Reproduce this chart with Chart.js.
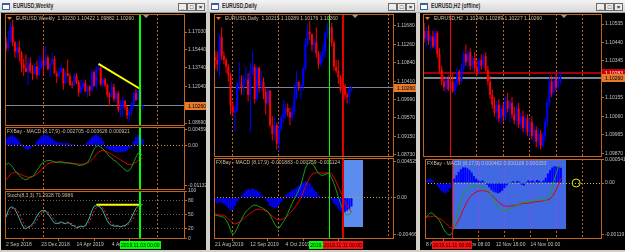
<!DOCTYPE html>
<html><head><meta charset="utf-8">
<script src="https://cdn.jsdelivr.net/npm/chart.js@4.4.0/dist/chart.umd.min.js"></script>
<style>
html,body{margin:0;padding:0;background:#d4d0c8;width:625px;height:252px;overflow:hidden;font-family:"Liberation Sans",Arial,sans-serif;}
.tb{position:absolute;top:0;height:13px;background:linear-gradient(#f4f4f4,#d8d8d8);border-bottom:1px solid #9a9a9a;box-sizing:border-box}
.tt{position:absolute;left:13px;top:2px;font-size:6.5px;color:#2a2a2a;white-space:nowrap;transform:scaleX(0.78);transform-origin:0 0;font-weight:bold}
.ic{position:absolute;left:2px;top:3px;width:8px;height:7px;background:#fff;border:1px solid #3a5ea0;border-top-width:2px;box-sizing:border-box}
.bt{position:absolute;top:3px;width:9px;height:8px;background:#ececec;border:1px solid #6a6a6a;box-sizing:border-box;font-size:6px;line-height:6px;text-align:center;color:#000;font-weight:bold}
.cl{position:absolute;background:#000}
canvas{position:absolute}
</style></head><body>

<div class="tb" style="left:0;width:207px"><div class="ic"></div><div class="tt">EURUSD,Weekly</div>
<div class="bt" style="left:178px">_</div><div class="bt" style="left:187px">□</div><div class="bt" style="left:196px">×</div></div>
<div class="cl" style="left:1px;top:13px;width:205px;height:237px"></div>

<div class="tb" style="left:209px;width:208px"><div class="ic"></div><div class="tt">EURUSD,Daily</div>
<div class="bt" style="left:179px">_</div><div class="bt" style="left:188px">□</div><div class="bt" style="left:197px">×</div></div>
<div class="cl" style="left:210px;top:13px;width:206px;height:237px"></div>

<div class="tb" style="left:418px;width:207px"><div class="ic"></div><div class="tt">EURUSD,H2 (offline)</div>
<div class="bt" style="left:178px">_</div><div class="bt" style="left:187px">□</div><div class="bt" style="left:196px">×</div></div>
<div class="cl" style="left:420px;top:13px;width:205px;height:237px"></div>

<script>
// ======================= DATA =======================
// ---- Window 1 : EURUSD Weekly (63 bars, 2 Sep 2018 .. 10 Nov 2019)
const W1_OPEN = [1.1600,1.1553,1.1624,1.1754,1.1607,1.1524,1.1560,1.1513,1.1404,1.1373,
1.1336,1.1416,1.1340,1.1318,1.1388,1.1306,1.1372,1.1442,1.1395,1.1469,
1.1364,1.1408,1.1456,1.1323,1.1295,1.1337,1.1365,1.1234,1.1325,1.1301,
1.1217,1.1215,1.1300,1.1245,1.1148,1.1199,1.1235,1.1157,1.1204,1.1169,
1.1334,1.1211,1.1369,1.1372,1.1225,1.1270,1.1220,1.1127,1.1108,1.1200,
1.1090,1.1143,1.0989,1.1027,1.1074,1.1017,1.0940,1.0980,1.1040,1.1141,
1.1080,1.1165,1.10230];
const W1_HIGH = [1.1650,1.1720,1.1790,1.1815,1.1620,1.1610,1.1620,1.1530,1.1455,1.1500,
1.1470,1.1470,1.1400,1.1420,1.1440,1.1485,1.1475,1.1570,1.1570,1.1490,
1.1420,1.1515,1.1480,1.1345,1.1375,1.1420,1.1375,1.1340,1.1450,1.1325,
1.1255,1.1325,1.1325,1.1265,1.1265,1.1265,1.1265,1.1215,1.1215,1.1350,
1.1350,1.1390,1.1412,1.1385,1.1285,1.1285,1.1230,1.1150,1.1250,1.1230,
1.1160,1.1165,1.1085,1.1110,1.1075,1.1025,1.0999,1.1060,1.1160,1.1180,
1.1175,1.1175,1.10422];
const W1_LOW = [1.1525,1.1530,1.1610,1.1570,1.1465,1.1460,1.1430,1.1335,1.1300,1.1335,
1.1215,1.1325,1.1265,1.1315,1.1270,1.1300,1.1360,1.1310,1.1390,1.1350,
1.1290,1.1400,1.1320,1.1235,1.1290,1.1330,1.1175,1.1230,1.1295,1.1210,
1.1185,1.1210,1.1225,1.1110,1.1135,1.1180,1.1155,1.1105,1.1115,1.1160,
1.1200,1.1180,1.1355,1.1205,1.1195,1.1200,1.1100,1.1025,1.1100,1.1065,
1.1050,1.0965,1.0925,1.0925,1.0990,1.0905,1.0879,1.0940,1.1000,1.1070,
1.1075,1.1015,1.09882];
const W1_CLOSE = [1.1553,1.1624,1.1754,1.1607,1.1524,1.1560,1.1513,1.1404,1.1373,1.1336,
1.1416,1.1340,1.1318,1.1388,1.1306,1.1372,1.1442,1.1395,1.1469,1.1364,
1.1408,1.1456,1.1323,1.1295,1.1337,1.1365,1.1234,1.1325,1.1301,1.1217,
1.1215,1.1300,1.1245,1.1148,1.1199,1.1235,1.1157,1.1204,1.1169,1.1334,
1.1211,1.1369,1.1372,1.1225,1.1270,1.1220,1.1127,1.1108,1.1200,1.1090,
1.1143,1.0989,1.1027,1.1074,1.1017,1.0940,1.0980,1.1040,1.1141,1.1080,
1.1165,1.1019,1.10260];
const W1_MACD_HIST = [0.0019,0.0024,0.0028,0.0028,0.0024,0.0019,0.0012,0.0004,-0.0005,-0.0010,
-0.0012,-0.0008,-0.0003,0.0003,0.0012,0.0019,0.0026,0.0029,0.0030,0.0028,
0.0024,0.0019,0.0014,0.0010,0.0008,0.0009,0.0006,0.0007,0.0008,0.0005,
0.0003,0.0004,0.0002,-0.0002,-0.0001,0.0002,0.0004,0.0010,0.0017,0.0024,
0.0028,0.0030,0.0028,0.0022,0.0012,-0.0003,-0.0009,-0.0013,-0.0014,-0.0017,
-0.0019,-0.0020,-0.0019,-0.0018,-0.0017,-0.0014,-0.0009,-0.0003,0.0012,0.0024,
0.0030,0.0028,0.0019];
const W1_MACD_MAIN = [-0.00549,-0.00502,-0.00540,-0.00616,-0.00710,-0.00786,-0.00852,-0.00919,-0.00947,-0.00975,
-0.00947,-0.00900,-0.00881,-0.00805,-0.00710,-0.00616,-0.00521,-0.00474,-0.00445,-0.00426,
-0.00426,-0.00445,-0.00474,-0.00483,-0.00474,-0.00464,-0.00483,-0.00502,-0.00492,-0.00502,
-0.00521,-0.00521,-0.00540,-0.00568,-0.00559,-0.00549,-0.00521,-0.00474,-0.00379,-0.00237,
-0.00095,-0.00028,0.00000,-0.00047,-0.00095,-0.00161,-0.00237,-0.00313,-0.00350,-0.00426,
-0.00445,-0.00521,-0.00568,-0.00634,-0.00691,-0.00729,-0.00710,-0.00616,-0.00474,-0.00331,
-0.00218,-0.00237,-0.00271];
const W1_MACD_SIGNAL = [-0.00975,-0.00900,-0.00824,-0.00777,-0.00758,-0.00767,-0.00805,-0.00833,-0.00862,-0.00881,
-0.00900,-0.00900,-0.00881,-0.00852,-0.00805,-0.00758,-0.00691,-0.00616,-0.00568,-0.00521,
-0.00492,-0.00474,-0.00464,-0.00464,-0.00464,-0.00474,-0.00474,-0.00483,-0.00492,-0.00492,
-0.00502,-0.00511,-0.00521,-0.00530,-0.00530,-0.00530,-0.00521,-0.00502,-0.00464,-0.00407,
-0.00331,-0.00256,-0.00189,-0.00152,-0.00142,-0.00152,-0.00180,-0.00218,-0.00256,-0.00294,
-0.00331,-0.00369,-0.00407,-0.00445,-0.00483,-0.00521,-0.00540,-0.00540,-0.00521,-0.00474,
-0.00426,-0.00388,-0.00363];
const W1_STOCH_MAIN = [45,59,66,66,61,52,42,31,22,20,
24,26,30,38,47,54,58,59,58,52,
45,38,32,31,32,35,32,31,34,31,
27,26,22,24,26,24,27,35,45,59,
68,69,68,65,58,47,37,30,27,26,
26,26,24,26,27,30,35,44,54,63,
68,70,71.29];
const W1_STOCH_SIGNAL = [50,52,57,64,64,60,52,42,32,24,
22,23,27,31,38,46,53,57,58,56,
52,45,38,34,32,33,33,32,32,32,
31,28,25,24,24,25,26,29,36,46,
57,65,68,67,64,57,47,38,31,28,
26,26,25,25,26,28,31,36,44,54,
62,67,71.0];
const W1_PRICE_TICKS = [1.17030,1.15440,1.13740,1.12040,1.08690];
const W1_MACD_TICKS = [0.00459,0,-0.01132];
const W1_MACD_TICK_LABELS = ['0.004590','0.00','-0.01132'];
const W1_STOCH_TICKS = [100,80,50,20,0];
const W1_STOCH_LEVELS = [80,50,20];
const W1_TIME_TICKS = [0,16,32,48];
const W1_TIME_LABELS = ['2 Sep 2018','23 Dec 2018','14 Apr 2019','4 Aug 2019'];
const W1_TRENDLINE = [[42,1.1412],[61,1.1181]];
const W1_STOCH_HLINE = [[41,71],[61,71]];
const W1_MACD_HEADER = [-0.002705,-0.003626,0.000921];
const W1_STOCH_HEADER = [71.2928,70.9986];

// ---- Window 2 : EURUSD Daily (63 bars, 21 Aug 2019 .. 15 Nov 2019)
const W2_OPEN = [1.1095,1.1090,1.1080,1.1143,1.1100,1.1090,1.1075,1.1055,1.0985,1.0970,
1.0973,1.1035,1.1035,1.1027,1.1045,1.1045,1.1010,1.1065,1.1074,1.1000,
1.1072,1.1030,1.1040,1.1017,1.0990,1.1020,1.0940,1.0920,1.0940,1.0898,
1.0932,1.0958,1.0965,1.0980,1.0970,1.0958,1.0970,1.1005,1.1040,1.1030,
1.1030,1.1070,1.1125,1.1155,1.1150,1.1125,1.1130,1.1105,1.1080,1.1100,
1.1110,1.1150,1.1150,1.1165,1.1130,1.1075,1.1065,1.1050,1.1020,1.1030,
1.1010,1.1005,1.10215];
const W2_HIGH = [1.1110,1.1110,1.1150,1.1165,1.1110,1.1095,1.1080,1.1060,1.0995,1.0985,
1.1040,1.1085,1.1055,1.1055,1.1075,1.1060,1.1085,1.1110,1.1080,1.1075,
1.1075,1.1065,1.1050,1.1025,1.1025,1.1020,1.0960,1.0960,1.0945,1.0945,
1.0965,1.0998,1.0990,1.0990,1.0980,1.0985,1.1035,1.1065,1.1040,1.1035,
1.1075,1.1140,1.1172,1.1180,1.1150,1.1140,1.1165,1.1110,1.1110,1.1125,
1.1155,1.1175,1.1178,1.1175,1.1135,1.1090,1.1090,1.1055,1.1035,1.1035,
1.1015,1.1030,1.10289];
const W2_LOW = [1.1070,1.1065,1.1052,1.1090,1.1080,1.1060,1.1040,1.0965,1.0960,1.0926,
1.0970,1.1020,1.1010,1.1010,1.1035,1.0995,1.0925,1.1055,1.0990,1.0995,
1.1015,1.1020,1.1000,1.0965,1.0985,1.0935,1.0905,1.0905,1.0885,1.0880,
1.0925,1.0945,1.0955,1.0960,1.0940,1.0950,1.0965,1.1000,1.1020,1.1000,
1.1020,1.1065,1.1120,1.1135,1.1110,1.1105,1.1095,1.1070,1.1075,1.1085,
1.1095,1.1140,1.1130,1.1120,1.1065,1.1060,1.1035,1.1015,1.1010,1.1000,
1.0990,1.0990,1.10176];
const W2_CLOSE = [1.1090,1.1080,1.1143,1.1100,1.1090,1.1075,1.1055,1.0985,1.0970,1.0973,
1.1035,1.1035,1.1027,1.1045,1.1045,1.1010,1.1065,1.1074,1.1000,1.1072,
1.1030,1.1040,1.1017,1.0990,1.1020,1.0940,1.0920,1.0940,1.0898,1.0932,
1.0958,1.0965,1.0980,1.0970,1.0958,1.0970,1.1005,1.1040,1.1030,1.1030,
1.1070,1.1125,1.1155,1.1150,1.1125,1.1130,1.1105,1.1080,1.1100,1.1110,
1.1150,1.1150,1.1165,1.1130,1.1075,1.1065,1.1050,1.1020,1.1030,1.1010,
1.1005,1.1022,1.10260];
const W2_MACD_HIST = [-0.0004,-0.0007,-0.0006,-0.0006,-0.0008,-0.0010,-0.0013,-0.0016,-0.0015,-0.0010,
-0.0005,-0.0002,0.0003,0.0006,0.0009,0.0011,0.0010,0.0012,0.0010,0.0009,
0.0007,0.0004,0.0002,-0.0002,-0.0006,-0.0010,-0.0012,-0.0013,-0.0012,-0.0009,
-0.0005,-0.0002,0.0003,0.0005,0.0007,0.0009,0.0011,0.0013,0.0015,0.0017,
0.0019,0.0020,0.0020,0.0018,0.0014,0.0010,0.0007,0.0003,0.0001,-0.0001,
0.0000,0.0001,-0.0001,-0.0003,-0.0007,-0.0010,-0.0014,-0.0017,-0.0018,-0.0018,
-0.0016,-0.0014,-0.0011];
const W2_MACD_MAIN = [-0.00217,-0.00225,-0.00229,-0.00234,-0.00246,-0.00279,-0.00329,-0.00404,-0.00459,-0.00438,
-0.00384,-0.00321,-0.00271,-0.00217,-0.00175,-0.00146,-0.00121,-0.00100,-0.00092,-0.00096,
-0.00113,-0.00121,-0.00138,-0.00154,-0.00175,-0.00217,-0.00271,-0.00329,-0.00371,-0.00384,
-0.00342,-0.00300,-0.00259,-0.00196,-0.00133,-0.00071,-0.00017,0.00033,0.00096,0.00158,
0.00263,0.00367,0.00421,0.00438,0.00430,0.00396,0.00346,0.00304,0.00284,0.00279,
0.00292,0.00304,0.00296,0.00242,0.00179,0.00096,0.00013,-0.00071,-0.00146,-0.00196,
-0.00217,-0.00210,-0.00188];
const W2_MACD_SIGNAL = [-0.00204,-0.00208,-0.00213,-0.00217,-0.00221,-0.00238,-0.00263,-0.00292,-0.00321,-0.00329,
-0.00321,-0.00304,-0.00288,-0.00263,-0.00238,-0.00217,-0.00196,-0.00175,-0.00158,-0.00146,
-0.00142,-0.00146,-0.00154,-0.00167,-0.00183,-0.00204,-0.00229,-0.00254,-0.00271,-0.00279,
-0.00275,-0.00263,-0.00246,-0.00225,-0.00196,-0.00163,-0.00129,-0.00092,-0.00050,0.00004,
0.00063,0.00138,0.00200,0.00254,0.00292,0.00304,0.00313,0.00313,0.00309,0.00304,
0.00309,0.00313,0.00313,0.00296,0.00254,0.00200,0.00138,0.00075,0.00013,-0.00050,
-0.00104,-0.00146,-0.00176];
const W2_PRICE_TICKS = [1.11680,1.11260,1.10840,1.10410,1.09990,1.09570,1.09150,1.08730];
const W2_MACD_TICKS = [0.004525,0,-0.004662];
const W2_MACD_TICK_LABELS = ['0.004525','0.00','-0.004662'];
const W2_TIME_TICKS = [0,16,32,48];
const W2_TIME_LABELS = ['21 Aug 2019','12 Sep 2019','4 Oct 2019','28 Oct 2019'];
const W2_MACD_HEADER = [-0.001883,-0.000759,-0.001124];
const W2_RECT = {x1:58.1, x2:67.2, y1:0.00471, y2:-0.003625};

// ---- Window 3 : EURUSD H2 (63 bars, 8 Nov 2019 00:00 .. 15 Nov 2019 04:00)
const W3_OPEN = [1.1050,1.1046,1.1050,1.1045,1.1047,1.1042,1.1049,1.1038,1.1030,1.1024,
1.1021,1.1025,1.1020,1.1024,1.1019,1.1023,1.1029,1.1024,1.1031,1.1038,
1.1034,1.1039,1.1032,1.1036,1.1031,1.1029,1.1035,1.1032,1.1037,1.1030,
1.1024,1.1017,1.1012,1.1008,1.1012,1.1005,1.1010,1.1006,1.1014,1.1010,
1.1013,1.1007,1.1004,1.1010,1.1002,1.1006,1.1000,1.1005,1.0998,1.1003,
1.0996,1.0999,1.0993,1.0997,1.0991,1.0996,1.1003,1.1013,1.1024,1.1018,
1.1025,1.1021,1.10240];
const W3_HIGH = [1.1054,1.1052,1.1053,1.1048,1.1050,1.1051,1.1050,1.1041,1.1032,1.1027,
1.1026,1.1027,1.1026,1.1028,1.1025,1.1031,1.1030,1.1033,1.1040,1.1043,
1.1040,1.1041,1.1037,1.1039,1.1035,1.1036,1.1038,1.1038,1.1039,1.1032,
1.1027,1.1020,1.1016,1.1014,1.1015,1.1012,1.1013,1.1016,1.1018,1.1015,
1.1016,1.1011,1.1012,1.1013,1.1008,1.1009,1.1007,1.1007,1.1005,1.1006,
1.1002,1.1001,1.1000,1.0999,1.0998,1.1005,1.1015,1.1026,1.1027,1.1026,
1.1028,1.1029,1.10289];
const W3_LOW = [1.1044,1.1042,1.1043,1.1040,1.1041,1.1040,1.1036,1.1028,1.1022,1.1019,
1.1018,1.1019,1.1017,1.1018,1.1017,1.1021,1.1022,1.1023,1.1029,1.1032,
1.1031,1.1030,1.1030,1.1029,1.1027,1.1028,1.1030,1.1031,1.1029,1.1022,
1.1015,1.1010,1.1006,1.1004,1.1003,1.1002,1.1003,1.1004,1.1008,1.1003,
1.1005,1.1002,1.1001,1.1000,1.0999,1.0998,1.0997,1.0996,1.0995,1.0994,
1.0992,1.0990,1.0990,1.0989,1.0990,1.0993,1.1001,1.1011,1.1016,1.1017,
1.1019,1.1020,1.10227];
const W3_CLOSE = [1.1046,1.1050,1.1045,1.1047,1.1042,1.1049,1.1038,1.1030,1.1024,1.1021,
1.1025,1.1020,1.1024,1.1019,1.1023,1.1029,1.1024,1.1031,1.1038,1.1034,
1.1039,1.1032,1.1036,1.1031,1.1029,1.1035,1.1032,1.1037,1.1030,1.1024,
1.1017,1.1012,1.1008,1.1012,1.1005,1.1010,1.1006,1.1014,1.1010,1.1013,
1.1007,1.1004,1.1010,1.1002,1.1006,1.1000,1.1005,1.0998,1.1003,1.0996,
1.0999,1.0993,1.0997,1.0991,1.0996,1.1003,1.1013,1.1024,1.1018,1.1025,
1.1021,1.1024,1.10260];
const W3_MACD_HIST = [0.00005,0.00008,0.00010,0.00006,0.00000,-0.00006,-0.00012,-0.00018,-0.00022,-0.00024,
-0.00020,-0.00012,0.00002,0.00010,0.00018,0.00026,0.00032,0.00036,0.00036,0.00034,
0.00030,0.00024,0.00016,0.00010,0.00006,0.00004,0.00006,0.00002,-0.00004,-0.00010,
-0.00016,-0.00020,-0.00022,-0.00024,-0.00022,-0.00018,-0.00012,-0.00006,-0.00002,0.00002,
0.00004,0.00002,0.00005,0.00003,-0.00004,-0.00006,0.00002,0.00006,0.00004,0.00006,
0.00003,0.00007,0.00005,0.00002,0.00006,0.00012,0.00022,0.00030,0.00036,0.00039,
0.00038,0.00037,0.000353];
const W3_MACD_MAIN = [-0.00080,-0.00074,-0.00069,-0.00071,-0.00075,-0.00080,-0.00086,-0.00095,-0.00106,-0.00114,
-0.00119,-0.00121,-0.00115,-0.00100,-0.00082,-0.00060,-0.00040,-0.00027,-0.00018,-0.00013,
-0.00010,-0.00008,-0.00007,-0.00006,-0.00007,-0.00008,-0.00010,-0.00011,-0.00014,-0.00019,
-0.00029,-0.00039,-0.00048,-0.00056,-0.00061,-0.00064,-0.00065,-0.00063,-0.00062,-0.00060,
-0.00057,-0.00054,-0.00051,-0.00048,-0.00045,-0.00045,-0.00044,-0.00044,-0.00043,-0.00042,
-0.00040,-0.00039,-0.00034,-0.00033,-0.00039,-0.00040,-0.00034,-0.00029,-0.00010,0.00009,
0.00024,0.00040,0.000462];
const W3_MACD_SIGNAL = [-0.00079,-0.00079,-0.00078,-0.00077,-0.00077,-0.00079,-0.00082,-0.00085,-0.00089,-0.00094,
-0.00098,-0.00103,-0.00105,-0.00101,-0.00095,-0.00086,-0.00075,-0.00063,-0.00052,-0.00042,
-0.00034,-0.00028,-0.00024,-0.00021,-0.00019,-0.00018,-0.00018,-0.00018,-0.00020,-0.00022,
-0.00027,-0.00032,-0.00037,-0.00043,-0.00047,-0.00051,-0.00053,-0.00054,-0.00054,-0.00053,
-0.00053,-0.00052,-0.00051,-0.00050,-0.00048,-0.00047,-0.00047,-0.00047,-0.00046,-0.00045,
-0.00044,-0.00043,-0.00043,-0.00042,-0.00041,-0.00040,-0.00039,-0.00037,-0.00031,-0.00024,
-0.00014,-0.00002,0.000109];
const W3_PRICE_TICKS = [1.10535,1.10440,1.10345,1.10155,1.10060,1.09965,1.09870];
const W3_MACD_TICKS = [0.000541,0,-0.00119];
const W3_MACD_TICK_LABELS = ['0.000541','0.00','-0.00119'];
const W3_TIME_TICKS = [0,16,32,48];
const W3_TIME_LABELS = ['8 Nov 2019','11 Nov 08:00','12 Nov 16:00','14 Nov 00:00'];
const W3_MACD_HEADER = [0.000462,0.000109,0.000353];
const W3_ASK_LINE = 1.10283;
const W3_RECT = {x1:12.2, x2:64.5, y1:0.000527, y2:-0.001076};
const W3_MARKER = [69, 0];

// ======================= STYLE =======================
const FONT = '"Liberation Sans", Arial, sans-serif';
const F5 = '5px ' + FONT;
const BULL = '#0000ff', BEAR = '#ff0000';
const BORDER = '#c0641e', SEP = '#c0641e', TXT = '#c0c0c0', HDR = '#d2bca0';
const ORANGE = '#e8782a', GREYLINE = '#7a8898';
const MGREEN = '#1a9a1a', MRED = '#e00000', HISTC = '#0000ff', ZERO = '#c8963c';
Chart.defaults.font.family = FONT;

// ======================= PLUGIN =======================
function vline(ctx, px, y1, y2, color, w, dash) {
  const xx = (w % 2) ? Math.floor(px) + 0.5 : Math.round(px);
  ctx.strokeStyle = color; ctx.lineWidth = w; ctx.setLineDash(dash || []);
  ctx.beginPath(); ctx.moveTo(xx, y1); ctx.lineTo(xx, y2); ctx.stroke();
}
function hline(ctx, py, x1, x2, color, w, dash) {
  const yy = (w % 2) ? Math.floor(py) + 0.5 : Math.round(py);
  ctx.strokeStyle = color; ctx.lineWidth = w; ctx.setLineDash(dash || []);
  ctx.beginPath(); ctx.moveTo(x1, yy); ctx.lineTo(x2, yy); ctx.stroke();
}
function mt4(cfg) {
  return {
    id: 'mt4',
    beforeDatasetsDraw(chart) {
      const {ctx, chartArea: a, scales: {x, y}} = chart;
      ctx.save();
      ctx.beginPath(); ctx.rect(a.left, a.top, a.right - a.left, a.bottom - a.top); ctx.clip();
      (cfg.seps || []).forEach(i => vline(ctx, x.getPixelForValue(i), a.top, a.bottom, SEP, 1, [2, 2]));
      (cfg.rects || []).forEach(r => {
        const x1 = Math.round(x.getPixelForValue(r.x1)), x2 = Math.round(x.getPixelForValue(r.x2));
        const y1 = Math.round(y.getPixelForValue(r.y1)), y2 = Math.round(y.getPixelForValue(r.y2));
        ctx.fillStyle = r.color; ctx.fillRect(x1, y1, x2 - x1, y2 - y1);
        if (r.sepColor) (cfg.seps || []).forEach(i => { if (i > r.x1 && i < r.x2) vline(ctx, x.getPixelForValue(i), y1, y2, r.sepColor, 1, [2, 2]); });
      });
      (cfg.hlines || []).forEach(h => hline(ctx, y.getPixelForValue(h.v), a.left, a.right, h.color, h.w || 1, h.dash));
      ctx.restore();
    },
    afterDatasetsDraw(chart) {
      const {ctx, chartArea: a, scales: {x}} = chart;
      ctx.save();
      (cfg.vlines || []).forEach(v => vline(ctx, x.getPixelForValue(v.at), a.top, a.bottom, v.color, v.w || 1, []));
      ctx.restore();
    },
    afterDraw(chart) {
      const {ctx, chartArea: a, scales: {x, y}} = chart;
      ctx.save();
      ctx.setLineDash([]);
      ctx.strokeStyle = BORDER; ctx.lineWidth = 1;
      ctx.strokeRect(a.left + 0.5, a.top + 0.5, a.right - a.left - 1, a.bottom - a.top - 1);
      ctx.font = F5; ctx.textBaseline = 'middle'; ctx.textAlign = 'left';
      (cfg.tags || []).forEach(t => {
        const py = Math.round(y.getPixelForValue(t.v));
        ctx.fillStyle = t.bg; ctx.fillRect(a.right, py - 4, chart.width - a.right, 8);
        ctx.fillStyle = t.fg; ctx.fillText(t.v.toFixed(5), a.right + 3, py + 0.5);
      });
      if (cfg.header) {
        let hx = a.left + 2;
        if (cfg.marker) {
          ctx.fillStyle = ORANGE; ctx.beginPath();
          ctx.moveTo(hx, a.top + 3); ctx.lineTo(hx + 5, a.top + 3); ctx.lineTo(hx + 2.5, a.top + 6); ctx.closePath(); ctx.fill();
          hx += 9;
        }
        ctx.fillStyle = HDR; ctx.fillText(cfg.header, hx, a.top + 4.5);
      }
      if (cfg.shiftAt !== undefined) {
        const sx = x.getPixelForValue(cfg.shiftAt);
        ctx.fillStyle = '#8a9ab0'; ctx.beginPath();
        ctx.moveTo(sx - 3, a.top + 1); ctx.lineTo(sx + 3, a.top + 1); ctx.lineTo(sx, a.top + 4); ctx.closePath(); ctx.fill();
      }
      (cfg.timeBoxes || []).forEach(t => {
        const px = x.getPixelForValue(t.at);
        const w = Math.round(ctx.measureText(t.text).width + 2);
        ctx.fillStyle = t.bg; ctx.fillRect(Math.round(px - w / 2), a.bottom + 2, w, 8);
        ctx.fillStyle = t.fg; ctx.textAlign = 'center'; ctx.fillText(t.text, px, a.bottom + 6.5);
        ctx.textAlign = 'left';
      });
      ctx.restore();
    }
  };
}

// ======================= BUILDERS =======================
function pts(arr) { return arr.map((v, i) => ({x: i, y: v})); }
function candles(o, h, l, c) {
  const col = c.map((v, i) => v >= o[i] ? BULL : BEAR);
  return [
    {type: 'bar', data: l.map((v, i) => ({x: i, y: [v, h[i]]})), backgroundColor: col, barThickness: 1, grouped: false, inflateAmount: 0, order: 3},
    {type: 'bar', data: o.map((v, i) => ({x: i, y: [Math.min(v, c[i]), Math.max(v, c[i])]})), backgroundColor: col, barThickness: 2, minBarLength: 1, grouped: false, inflateAmount: 0, order: 2}
  ];
}
function lineDs(arr, color, extra) {
  return Object.assign({type: 'line', data: pts(arr), borderColor: color, borderWidth: 1, pointRadius: 0, tension: 0, order: 0}, extra || {});
}
function histDs(arr) {
  return {type: 'bar', data: pts(arr), backgroundColor: HISTC, barThickness: 2, grouped: false, inflateAmount: 0, order: 5};
}
function makeChart(box, ax, datasets, cfg) {
  const cv = document.createElement('canvas');
  cv.width = box.w; cv.height = box.h;
  cv.style.left = box.l + 'px'; cv.style.top = box.t + 'px';
  document.body.appendChild(cv);
  const hasTime = !!ax.timeTicks;
  return new Chart(cv, {
    type: 'bar',
    data: {datasets},
    options: {
      responsive: false, animation: false, devicePixelRatio: 1, events: [],
      layout: {padding: {left: box.pl, top: box.pt, right: 0, bottom: 0}},
      plugins: {legend: {display: false}, tooltip: {enabled: false}},
      scales: {
        x: {
          type: 'linear', min: -0.5, max: ax.xmax, offset: false, display: hasTime,
          grid: {display: true, drawOnChartArea: false, drawTicks: true, tickLength: 2, color: BORDER},
          border: {display: false},
          ticks: {autoSkip: false, maxRotation: 0, minRotation: 0, align: 'start', padding: 1, color: TXT, font: {size: 5},
                  callback: (v, i) => hasTime ? ax.timeLabels[i] : ''},
          afterBuildTicks: s => { if (hasTime) s.ticks = ax.timeTicks.map(v => ({value: v})); },
          afterFit: s => { s.height = hasTime ? 11 : 0; s.paddingLeft = 0; s.paddingRight = 0; }
        },
        y: {
          type: 'linear', position: 'right', min: ax.ymin, max: ax.ymax,
          grid: {display: true, drawOnChartArea: false, drawTicks: true, tickLength: 2, color: BORDER},
          border: {display: false},
          ticks: {autoSkip: false, padding: 1, color: TXT, font: {size: 5}, callback: (v, i) => ax.yLabels[i]},
          afterBuildTicks: s => { s.ticks = ax.yTicks.map(v => ({value: v})); },
          afterFit: s => { s.width = ax.yw; s.paddingTop = 0; s.paddingBottom = 0; }
        }
      }
    },
    plugins: [mt4(cfg)]
  });
}
const ohlcText = (o, h, l, c) => [o, h, l, c].map(a => a[a.length - 1].toFixed(5)).join(' ');
const macdText = v => 'FXBay - MACD (8,17,9) ' + v.map(n => n.toFixed(6)).join(' ');

// ======================= WINDOW 1 =======================
const W1X = 81.3;
makeChart({l: 1, t: 13, w: 205, h: 113, pl: 4, pt: 1},
  {xmax: W1X, ymin: 1.08420, ymax: 1.18679, yTicks: W1_PRICE_TICKS, yLabels: W1_PRICE_TICKS.map(v => v.toFixed(5)), yw: 21},
  [...candles(W1_OPEN, W1_HIGH, W1_LOW, W1_CLOSE),
   {type: 'line', data: W1_TRENDLINE.map(p => ({x: p[0], y: p[1]})), borderColor: '#ffff00', borderWidth: 2, pointRadius: 0, order: 0}],
  {seps: [17, 69], hlines: [{v: W1_CLOSE[W1_CLOSE.length - 1], color: GREYLINE}], vlines: [{at: 61, color: '#00ff00', w: 2}],
   tags: [{v: W1_CLOSE[W1_CLOSE.length - 1], bg: ORANGE, fg: '#000'}],
   header: 'EURUSD,Weekly  ' + ohlcText(W1_OPEN, W1_HIGH, W1_LOW, W1_CLOSE), marker: true, shiftAt: 63.6});

makeChart({l: 1, t: 123, w: 205, h: 67, pl: 4, pt: 4},
  {xmax: W1X, ymin: -0.012638, ymax: 0.005254, yTicks: W1_MACD_TICKS, yLabels: W1_MACD_TICK_LABELS, yw: 21},
  [histDs(W1_MACD_HIST), lineDs(W1_MACD_MAIN, MGREEN), lineDs(W1_MACD_SIGNAL, MRED)],
  {seps: [17, 69], hlines: [{v: 0, color: ZERO, dash: [1, 2]}], vlines: [{at: 61, color: '#00ff00', w: 2}],
   header: macdText(W1_MACD_HEADER)});

makeChart({l: 1, t: 187, w: 205, h: 63, pl: 4, pt: 4},
  {xmax: W1X, ymin: -1.5, ymax: 100, yTicks: W1_STOCH_TICKS, yLabels: W1_STOCH_TICKS.map(String), yw: 21,
   timeTicks: W1_TIME_TICKS, timeLabels: W1_TIME_LABELS},
  [lineDs(W1_STOCH_MAIN, '#3cb4b4'), lineDs(W1_STOCH_SIGNAL, '#ff2020', {borderDash: [2, 2], order: 1}),
   {type: 'line', data: W1_STOCH_HLINE.map(p => ({x: p[0], y: p[1]})), borderColor: '#ffff00', borderWidth: 2, pointRadius: 0, order: 0}],
  {seps: [17, 69], hlines: W1_STOCH_LEVELS.map(v => ({v, color: '#606060', dash: [1, 2]})), vlines: [{at: 61, color: '#00ff00', w: 2}],
   timeBoxes: [{at: 61, bg: '#00ff00', fg: '#000', text: '2019.11.03 00:00'}],
   header: 'Stoch(8,3,3) ' + W1_STOCH_HEADER.map(v => v.toFixed(4)).join(' ')});

// ======================= WINDOW 2 =======================
const W2X = 81.3;
makeChart({l: 210, t: 13, w: 206, h: 144, pl: 4, pt: 1},
  {xmax: W2X, ymin: 1.086722, ymax: 1.119555, yTicks: W2_PRICE_TICKS, yLabels: W2_PRICE_TICKS.map(v => v.toFixed(5)), yw: 22},
  candles(W2_OPEN, W2_HIGH, W2_LOW, W2_CLOSE),
  {seps: [8, 29, 79], hlines: [{v: W2_CLOSE[W2_CLOSE.length - 1], color: GREYLINE}],
   vlines: [{at: 52, color: '#00ff00', w: 1}, {at: 58, color: '#e00000', w: 2}],
   tags: [{v: W2_CLOSE[W2_CLOSE.length - 1], bg: ORANGE, fg: '#000'}],
   header: 'EURUSD,Daily  ' + ohlcText(W2_OPEN, W2_HIGH, W2_LOW, W2_CLOSE), marker: true, shiftAt: 63.6});

makeChart({l: 210, t: 154, w: 206, h: 96, pl: 4, pt: 4},
  {xmax: W2X, ymin: -0.0051625, ymax: 0.0049625, yTicks: W2_MACD_TICKS, yLabels: W2_MACD_TICK_LABELS, yw: 22,
   timeTicks: W2_TIME_TICKS, timeLabels: W2_TIME_LABELS},
  [histDs(W2_MACD_HIST), lineDs(W2_MACD_MAIN, MGREEN), lineDs(W2_MACD_SIGNAL, MRED)],
  {seps: [8, 29, 79], rects: [Object.assign({color: '#5b8def'}, W2_RECT)],
   hlines: [{v: 0, color: ZERO, dash: [1, 2]}],
   vlines: [{at: 52, color: '#00ff00', w: 1}, {at: 58, color: '#e00000', w: 2}],
   timeBoxes: [{at: 52, bg: '#00ff00', fg: '#000', text: '2019.11.01 00:00'}, {at: 58, bg: '#ff1010', fg: '#000', text: '2019.11.11 00:00'}],
   header: macdText(W2_MACD_HEADER)});

// ======================= WINDOW 3 =======================
const W3X = 80.9;
makeChart({l: 420, t: 13, w: 205, h: 144, pl: 3, pt: 1},
  {xmax: W3X, ymin: 1.098514, ymax: 1.105864, yTicks: W3_PRICE_TICKS, yLabels: W3_PRICE_TICKS.map(v => v.toFixed(5)), yw: 23},
  candles(W3_OPEN, W3_HIGH, W3_LOW, W3_CLOSE),
  {seps: [24, 36, 48, 60, 72],
   hlines: [{v: W3_ASK_LINE, color: '#a00000', w: 2}, {v: W3_CLOSE[W3_CLOSE.length - 1], color: GREYLINE, w: 2}],
   vlines: [{at: 12, color: '#ff0000', w: 1}],
   tags: [{v: W3_ASK_LINE, bg: '#d00000', fg: '#fff'}, {v: W3_CLOSE[W3_CLOSE.length - 1], bg: ORANGE, fg: '#000'}],
   header: 'EURUSD,H2  ' + ohlcText(W3_OPEN, W3_HIGH, W3_LOW, W3_CLOSE), marker: true, shiftAt: 63.6});

makeChart({l: 420, t: 154, w: 205, h: 96, pl: 3, pt: 4},
  {xmax: W3X, ymin: -0.00129843, ymax: 0.00055647, yTicks: W3_MACD_TICKS, yLabels: W3_MACD_TICK_LABELS, yw: 23,
   timeTicks: W3_TIME_TICKS, timeLabels: W3_TIME_LABELS},
  [histDs(W3_MACD_HIST), lineDs(W3_MACD_MAIN, '#1aa01a'), lineDs(W3_MACD_SIGNAL, MRED),
   {type: 'line', data: [{x: W3_MARKER[0], y: W3_MARKER[1]}], showLine: false, pointRadius: 4, pointBorderWidth: 1,
    pointBorderColor: '#e8e800', pointBackgroundColor: 'rgba(0,0,0,0)', order: 0}],
  {seps: [24, 36, 48, 60, 72], rects: [Object.assign({color: '#4169e1', sepColor: '#a040f0'}, W3_RECT)],
   hlines: [{v: 0, color: '#c8c03c', dash: [1, 2]}],
   vlines: [{at: 12, color: '#ff0000', w: 1}],
   timeBoxes: [{at: 12, bg: '#ff1010', fg: '#000', text: '2019.11.11 00:00'}],
   header: macdText(W3_MACD_HEADER)});
</script>
</body></html>
